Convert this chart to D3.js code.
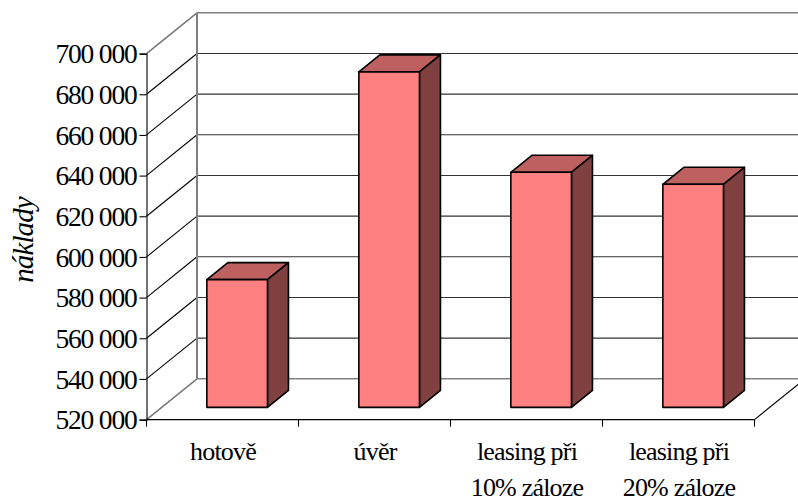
<!DOCTYPE html>
<html>
<head>
<meta charset="utf-8">
<style>
html,body{margin:0;padding:0;background:#fff;}
svg{display:block;}
text{font-family:"Liberation Serif","Times New Roman",serif;fill:#000;}
</style>
<script src="https://cdn.jsdelivr.net/npm/d3@7/dist/d3.min.js"></script>
</head>
<body>
<svg id="chart" width="798" height="501"></svg>
<script>
const categories = [["hotově"], ["úvěr"], ["leasing při", "10% záloze"], ["leasing při", "20% záloze"]];
const costs = [582800, 685000, 635600, 629700];
const tickValues = [520000, 540000, 560000, 580000, 600000, 620000, 640000, 660000, 680000, 700000];
const axisTitle = "náklady";

(function () {
const svg = d3.select("#chart");
const plotLeft = 146.5, plotRight = 754.5, plotBottom = 419.6, plotTop = 53.6;
const wallDx = 50.5, wallDy = -40.8;      // depth of the 3D box
const barShift = 0.3;                     // front of a bar, as a share of box depth
const barDx = 21, barDy = -17;            // depth of a bar

const y = d3.scaleLinear().domain([520000, 700000]).range([plotBottom, plotTop]);
const slots = d3.scaleBand().domain(d3.range(categories.length)).range([plotLeft, plotRight]);
const isEdge = i => i === 0 || i === tickValues.length - 1;

// Back wall and its grid lines
const back = svg.append("g");
back.selectAll("line.grid").data(tickValues).join("line").attr("class", "grid")
  .attr("x1", plotLeft + wallDx).attr("x2", plotRight + wallDx)
  .attr("y1", d => y(d) + wallDy).attr("y2", d => y(d) + wallDy)
  .attr("stroke", (d, i) => isEdge(i) ? "#808080" : "#333")
  .attr("stroke-width", (d, i) => isEdge(i) ? 1.6 : 1.1);

// Side wall grid lines
back.selectAll("line.side").data(tickValues).join("line").attr("class", "side")
  .attr("x1", plotLeft).attr("x2", plotLeft + wallDx)
  .attr("y1", d => y(d)).attr("y2", d => y(d) + wallDy)
  .attr("stroke", (d, i) => isEdge(i) ? "#777" : "#000")
  .attr("stroke-width", (d, i) => isEdge(i) ? 1.5 : 1.1);

back.append("line")
  .attr("x1", plotLeft + wallDx).attr("x2", plotLeft + wallDx)
  .attr("y1", y(700000) + wallDy).attr("y2", y(520000) + wallDy)
  .attr("stroke", "#808080").attr("stroke-width", 2);

// Floor edge on the right
back.append("line")
  .attr("x1", plotRight).attr("x2", plotRight + wallDx)
  .attr("y1", plotBottom).attr("y2", plotBottom + wallDy)
  .attr("stroke", "#000").attr("stroke-width", 1.1);

// Value axis
const yAxis = d3.axisLeft(y)
  .tickValues(tickValues)
  .tickSize(7).tickPadding(3)
  .tickFormat(d => d3.format(",")(d).replace(/,/g, " "));
const yG = svg.append("g").attr("transform", `translate(${plotLeft},0)`).call(yAxis);
yG.selectAll("text").style("font-size", "27.5px").style("letter-spacing", "-1.2px").attr("dy", "0.34em");
yG.selectAll("path,line").attr("stroke", "#000").attr("stroke-width", 1.1);

// Category axis
const xG = svg.append("g").attr("transform", `translate(0,${plotBottom})`);
xG.append("path").attr("d", `M${plotLeft},0H${plotRight}`).attr("stroke", "#000").attr("stroke-width", 1.3);
xG.selectAll("line.t").data(d3.range(categories.length + 1)).join("line").attr("class", "t")
  .attr("x1", i => plotLeft + slots.step() * i).attr("x2", i => plotLeft + slots.step() * i)
  .attr("y1", 0).attr("y2", 7).attr("stroke", "#000").attr("stroke-width", 1.1);

// Category labels, one tspan per line
const labels = svg.append("g").selectAll("text").data(categories).join("text")
  .attr("text-anchor", "middle").style("font-size", "26px").style("letter-spacing", "-0.8px");
labels.each(function (lines, i) {
  d3.select(this).selectAll("tspan").data(lines).join("tspan")
    .attr("x", slots(i) + slots.bandwidth() / 2 + 0.5)
    .attr("y", (d, k) => 460 + k * 35.6)
    .text(d => d);
});

// Bars: front, top and side faces
const barW = 60.6;
const barX = i => slots(i) + slots.bandwidth() / 2 + barShift * wallDx - barW / 2 - 0.5;
const base = plotBottom + barShift * wallDy;
const valueY = v => y(v) + barShift * wallDy;
const bars = svg.append("g").selectAll("g").data(costs).join("g")
  .attr("stroke", "#000").attr("stroke-width", 1.6).attr("stroke-linejoin", "round");
bars.append("path").attr("fill", "#BF6060")
  .attr("d", (d, i) => `M${barX(i)},${valueY(d)}l${barDx},${barDy}h${barW}l${-barDx},${-barDy}z`);
bars.append("path").attr("fill", "#804040")
  .attr("d", (d, i) => `M${barX(i) + barW},${valueY(d)}l${barDx},${barDy}V${base + barDy}l${-barDx},${-barDy}z`);
bars.append("rect").attr("fill", "#FF8080")
  .attr("x", (d, i) => barX(i)).attr("width", barW)
  .attr("y", d => valueY(d)).attr("height", d => base - valueY(d));

// Value axis title
svg.append("text")
  .attr("transform", "translate(33,240) rotate(-90)")
  .attr("text-anchor", "middle")
  .style("font-size", "29px").style("letter-spacing", "-0.9px").style("font-style", "italic")
  .text(axisTitle);
})();
</script>
</body>
</html>
